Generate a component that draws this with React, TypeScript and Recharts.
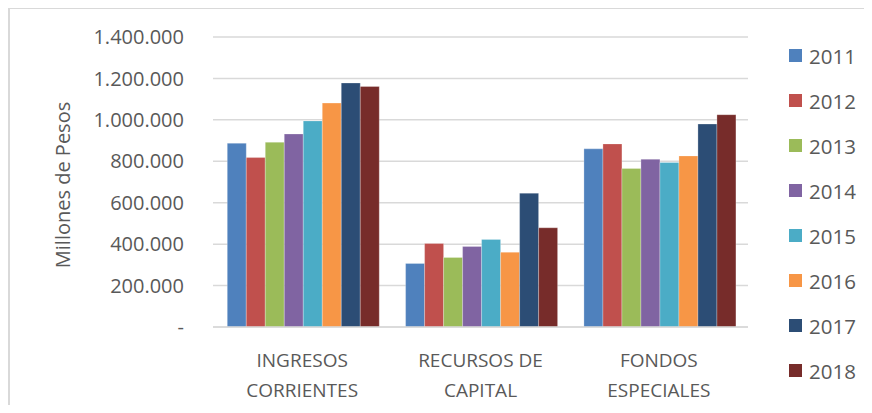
import { BarChart, Bar, XAxis, YAxis, CartesianGrid } from 'recharts'

const categories = ['INGRESOS CORRIENTES', 'RECURSOS DE CAPITAL', 'FONDOS ESPECIALES']
const categoryLines = [
  ['INGRESOS', 'CORRIENTES'],
  ['RECURSOS DE', 'CAPITAL'],
  ['FONDOS', 'ESPECIALES'],
]
const years = ['2011', '2012', '2013', '2014', '2015', '2016', '2017', '2018']
const yearColors = ['#4F81BD', '#C0504D', '#9BBB59', '#8064A2', '#4BACC6', '#F79646', '#2C4D75', '#772C2A']

// millones de pesos, one array per category in year order
const ingresosCorrientes = [887000, 818000, 892000, 932000, 995000, 1081000, 1178000, 1161000]
const recursosDeCapital = [307000, 403000, 336000, 389000, 423000, 361000, 646000, 479000]
const fondosEspeciales = [860000, 884000, 765000, 810000, 794000, 826000, 980000, 1025000]
const yTicks = [0, 200000, 400000, 600000, 800000, 1000000, 1200000, 1400000]

const valuesByCategory = [ingresosCorrientes, recursosDeCapital, fondosEspeciales]
const data = categories.map((name, c) => {
  const row: Record<string, any> = { name }
  years.forEach((y, i) => { row[y] = valuesByCategory[c][i] })
  return row
})

const FONT = '"Open Sans", "Noto Sans", sans-serif'
const TEXT = '#595959'

const fmt = (v: number) => (v === 0 ? '-' : String(v).replace(/\B(?=(\d{3})+(?!\d))/g, '.'))

const CategoryTick = ({ x, y, payload }: any) => {
  const i = categories.indexOf(payload.value)
  const lines = categoryLines[i] ?? [payload.value]
  return (
    <text x={x} y={y} textAnchor="middle" fill={TEXT} fontSize={19} fontFamily={FONT}>
      {lines.map((l, k) => (
        <tspan key={k} x={x} dy={k === 0 ? 32 : 30}>{l}</tspan>
      ))}
    </text>
  )
}

const LegendBox = () => (
  <div style={{ position: 'absolute', left: 789, top: 33, fontFamily: FONT, fontSize: 20.5, color: TEXT }}>
    {years.map((y, i) => (
      <div key={y} style={{ display: 'flex', alignItems: 'center', height: 45 }}>
        <span style={{ width: 13, height: 13, background: yearColors[i], marginRight: 7, display: 'inline-block' }} />
        <span>{y}</span>
      </div>
    ))}
  </div>
)

export default function App() {
  return (
    <div style={{ position: 'relative', margin: -8, width: 872, height: 413, background: '#fff', overflow: 'hidden' }}>
      <div style={{ position: 'absolute', left: 8, top: 7, width: 880, height: 420, borderLeft: '2px solid #d9d9d9', borderTop: '2px solid #d9d9d9' }} />
      <BarChart
        width={872}
        height={413}
        data={data}
        margin={{ top: 37, right: 124, bottom: 0, left: 0 }}
        barCategoryGap="8%"
        barGap={0}
      >
        <CartesianGrid vertical={false} stroke="#d9d9d9" strokeWidth={1.5} />
        <XAxis
          dataKey="name"
          axisLine={{ stroke: '#d9d9d9', strokeWidth: 1.5 }}
          tickLine={false}
          tick={<CategoryTick />}
          interval={0}
          height={86}
        />
        <YAxis
          width={213}
          domain={[0, 1400000]}
          ticks={yTicks}
          tickFormatter={fmt}
          axisLine={false}
          tickLine={false}
          tickSize={0}
          tickMargin={29}
          tick={{ fill: TEXT, fontSize: 20, fontFamily: FONT }}
          label={() => (
            <text
              x={62}
              y={185}
              transform="rotate(-90 62 185)"
              textAnchor="middle"
              dominantBaseline="central"
              fill={TEXT}
              fontSize={20}
              fontFamily={FONT}
            >
              Millones de Pesos
            </text>
          )}
        />
        {years.map((y, i) => (
          <Bar
            key={y}
            dataKey={y}
            fill={yearColors[i]}
            stroke="#ffffff"
            strokeOpacity={0.35}
            strokeWidth={0.75}
            isAnimationActive={false}
          />
        ))}
      </BarChart>
      <LegendBox />
    </div>
  )
}
